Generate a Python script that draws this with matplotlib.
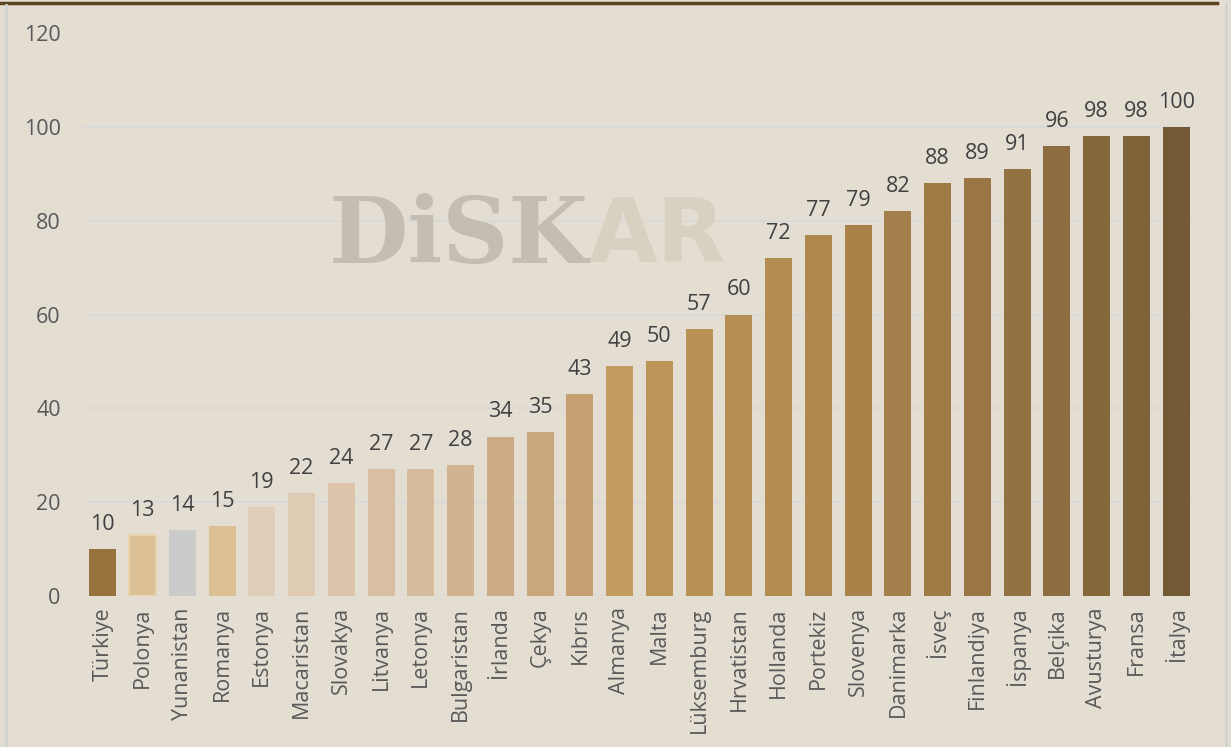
import matplotlib
matplotlib.use("Agg")
import matplotlib.pyplot as plt
from matplotlib.lines import Line2D

# veri
ulkeler = ["Türkiye", "Polonya", "Yunanistan", "Romanya", "Estonya", "Macaristan",
           "Slovakya", "Litvanya", "Letonya", "Bulgaristan", "İrlanda", "Çekya",
           "Kıbrıs", "Almanya", "Malta", "Lüksemburg", "Hrvatistan", "Hollanda",
           "Portekiz", "Slovenya", "Danimarka", "İsveç", "Finlandiya", "İspanya",
           "Belçika", "Avusturya", "Fransa", "İtalya"]
degerler = [10, 13, 14, 15, 19, 22, 24, 27, 27, 28, 34, 35, 43, 49, 50, 57, 60,
            72, 77, 79, 82, 88, 89, 91, 96, 98, 98, 100]
renkler = ["#98723C", "#DCC095", "#CBCBCB", "#DCC094", "#E0CEB9", "#DFCAB3",
           "#DCC5AC", "#D8BFA3", "#D6BB9D", "#D1B38F", "#CDAB84", "#C9A67C",
           "#C6A070", "#C39A60", "#BE9558", "#BA9155", "#B58E53", "#B38C51",
           "#AE884E", "#A88249", "#A37F4C", "#9E7A45", "#997643", "#927142",
           "#8C6C40", "#856839", "#7E6339", "#735A35"]
yticks = [0, 20, 40, 60, 80, 100, 120]

arka = "#E3DDD2"
font = ["Open Sans", "DejaVu Sans"]
fs = 15.5

fig = plt.figure(figsize=(12.31, 7.47), dpi=100, facecolor=arka)
ax = fig.add_axes([0.0674, 0.2021, 0.9042, 0.7537], facecolor=arka)

x = range(len(ulkeler))
bars = ax.bar(x, degerler, width=0.68, color=renkler, zorder=3)
bars[1].set_edgecolor("#EAD3AA")
bars[1].set_linewidth(1.5)

for i, v in enumerate(degerler):
    ax.text(i, v + 3.0, str(v), ha="center", va="bottom", fontsize=fs,
            color="#404040", family=font, zorder=4)

ax.set_xlim(-0.5, len(ulkeler) - 0.5)
ax.set_ylim(0, 120)
ax.set_yticks(yticks)
ax.set_yticklabels([str(t) for t in yticks], family=font, fontsize=fs, color="#595959")
ax.set_xticks(list(x))
ax.set_xticklabels(ulkeler, rotation=90, family=font, fontsize=fs, color="#595959")
ax.tick_params(axis="both", length=0)
ax.tick_params(axis="y", pad=16)
ax.tick_params(axis="x", pad=8)
ax.grid(axis="y", color="#D9D9D9", linewidth=1.3, zorder=0)
for s in ax.spines.values():
    s.set_visible(False)

# filigran
fig.text(0.267, 0.682, "DiSK", fontsize=66, fontweight="bold", family="DejaVu Serif",
         color="#C5BDB1", va="center", ha="left", zorder=0)
fig.text(0.478, 0.682, "AR", fontsize=64, fontweight="bold", family="DejaVu Sans",
         color="#D8D0C1", va="center", ha="left", zorder=0)

# çerçeve
fig.add_artist(Line2D([0, 0.989], [0.996, 0.996], transform=fig.transFigure,
                      color="#5C4420", linewidth=2.5))
fig.add_artist(Line2D([0.005, 0.005], [0, 0.993], transform=fig.transFigure,
                      color="#D2D2D2", linewidth=2))
fig.add_artist(Line2D([0.996, 0.996], [0, 0.993], transform=fig.transFigure,
                      color="#D2D2D2", linewidth=2))

fig.savefig("out.png", dpi=100, facecolor=arka)
